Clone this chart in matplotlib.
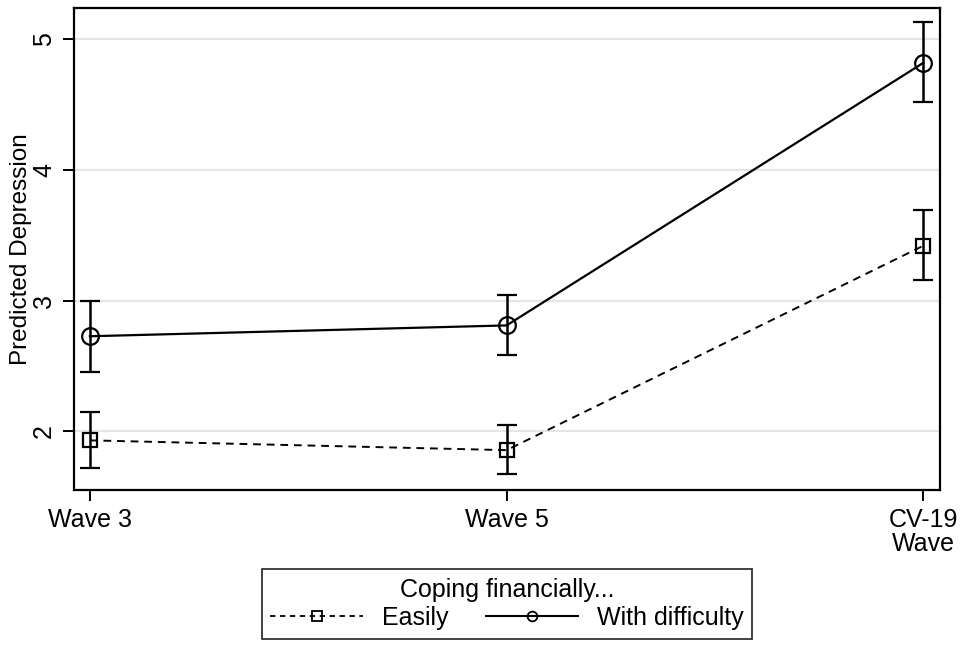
import matplotlib
matplotlib.use("Agg")
import matplotlib.pyplot as plt
from matplotlib.lines import Line2D

waves = ["Wave 3", "Wave 5", "CV-19\nWave"]
easily = [1.93, 1.855, 3.42]
easily_lo = [1.72, 1.67, 3.155]
easily_hi = [2.145, 2.05, 3.69]
diff = [2.727, 2.81, 4.82]
diff_lo = [2.45, 2.58, 4.52]
diff_hi = [3.0, 3.04, 5.13]
yticks = [2, 3, 4, 5]

plt.rcParams['font.family'] = ['Liberation Sans', 'DejaVu Sans']
fig = plt.figure(figsize=(9.64, 6.45), dpi=100)
ax = fig.add_axes([74/964, 1-490/645, (940-74)/964, (490-8)/645])

x = list(range(len(waves)))
def err(v, lo, hi):
    return [[a - b for a, b in zip(v, lo)], [b - a for a, b in zip(v, hi)]]

ax.errorbar(x, easily, yerr=err(easily, easily_lo, easily_hi), color='black',
            ls=(0, (4, 3)), lw=1.4, marker='s', ms=10, mfc='none', mew=1.6,
            capsize=7, elinewidth=1.8, capthick=1.8)
ax.errorbar(x, diff, yerr=err(diff, diff_lo, diff_hi), color='black',
            ls='-', lw=1.6, marker='o', ms=12, mfc='none', mew=1.6,
            capsize=7, elinewidth=1.8, capthick=1.8)

ax.set_xlim(-0.038, 2.04)
ax.set_ylim(1.55, 5.24)
ax.set_xticks(x)
ax.set_xticklabels(waves, fontsize=18, linespacing=1.0)
ax.set_yticks(yticks)
ax.set_yticklabels([str(t) for t in yticks], fontsize=18, rotation=90, va='center')
ax.set_ylabel("Predicted Depression", fontsize=17.5, labelpad=0)
ax.tick_params(axis='both', direction='out', length=8, width=1.4, pad=5)
ax.grid(axis='y', color='#e6e6e6', lw=1.6)
ax.set_axisbelow(True)
for s in ax.spines.values():
    s.set_linewidth(1.6)

handles = [
    Line2D([], [], color='black', ls=(0, (3, 2.5)), lw=1.3, marker='s', ms=7, mfc='none', mew=1.3),
    Line2D([], [], color='black', ls='-', lw=1.5, marker='o', ms=7, mfc='none', mew=1.3),
]
labels = ["Easily", "With difficulty"]
leg = fig.legend(handles, labels, title="Coping financially...", ncol=2,
                 loc='center', bbox_to_anchor=(507/964, 1-604/645),
                 fontsize=18, title_fontsize=18, frameon=True, fancybox=False,
                 edgecolor='black', handlelength=3.7, columnspacing=1.5,
                 borderpad=0.35, handletextpad=0.75, labelspacing=0.1,
                 borderaxespad=0)
leg.get_frame().set_linewidth(1.3)
leg._legend_box.sep = 3
fig.savefig("out.png", dpi=100)
